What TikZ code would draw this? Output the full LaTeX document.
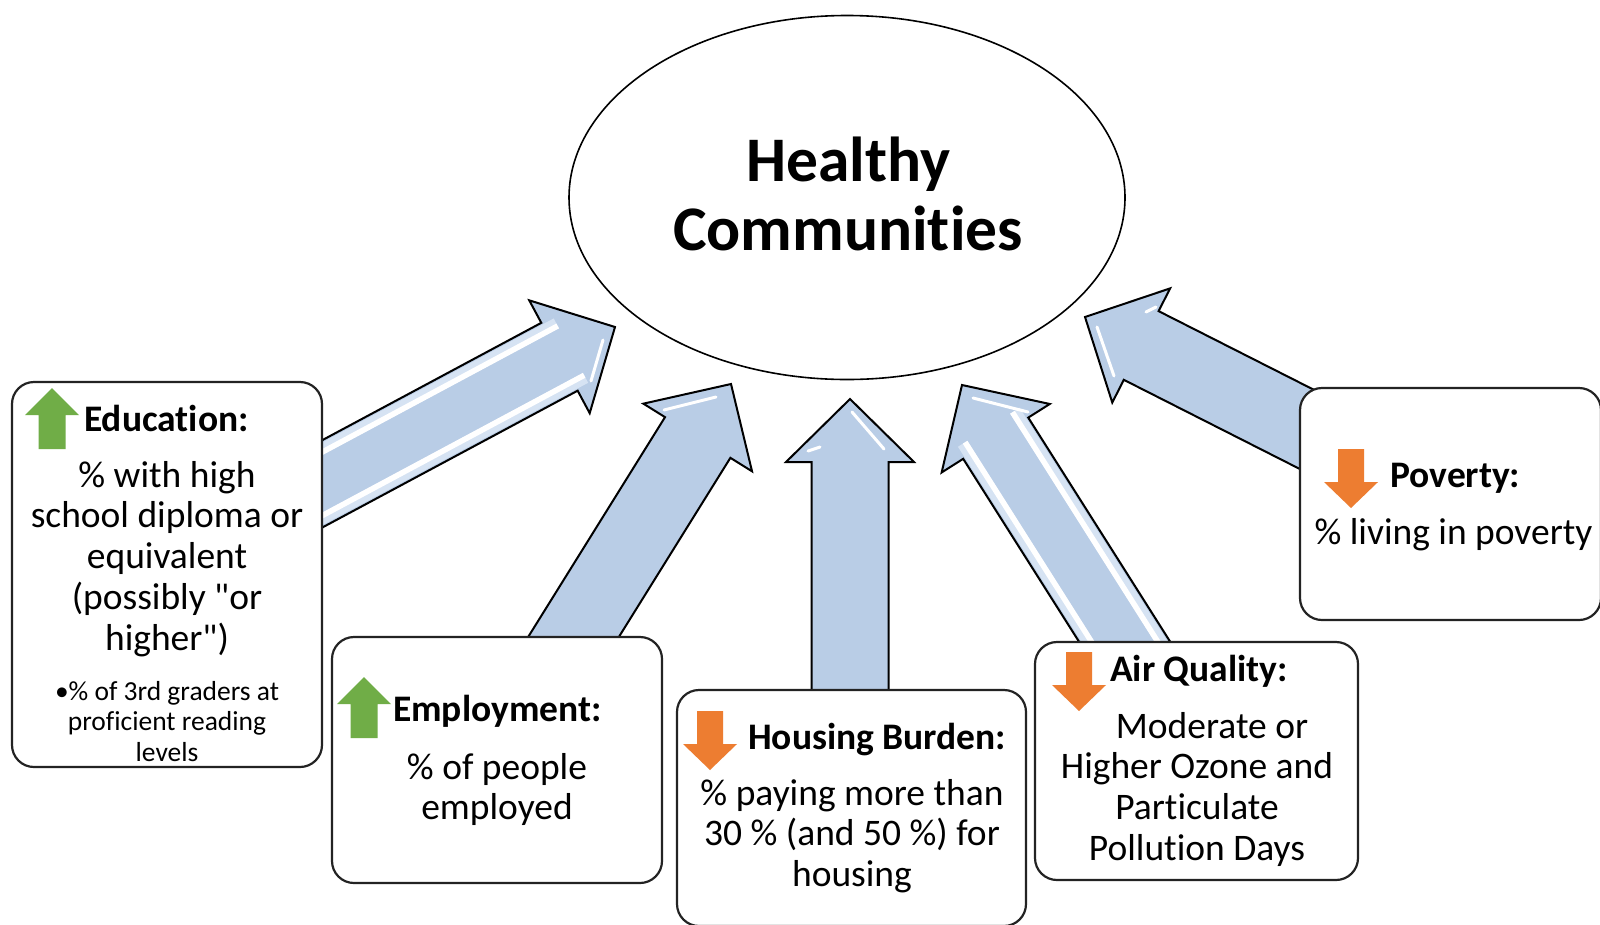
\documentclass[tikz,border=0pt]{standalone}
\usepackage{fontspec}
\setmainfont{Carlito}[Ligatures={TeXOff,CommonOff}]
\usetikzlibrary{shapes.geometric,calc}
\definecolor{arrowblue}{RGB}{185,205,230}
\definecolor{glowblue}{RGB}{214,227,243}
\definecolor{upgreen}{RGB}{112,173,71}
\definecolor{downorange}{RGB}{237,125,49}
\definecolor{boxline}{RGB}{35,35,35}

\newcommand\mylines[1]{\begin{tabular}[t]{@{}c@{}}#1\end{tabular}}

\tikzset{
  box/.style={draw=boxline, line width=2.2pt, fill=white, rounded corners=22pt, inner sep=0pt, outer sep=0pt},
  bodytext/.style={font=\fontsize{37.5}{40.8}\selectfont, inner sep=0pt, anchor=base},
  headtext/.style={font=\fontsize{37.5}{40.8}\selectfont\bfseries, inner sep=0pt, anchor=base west},
  smalltext/.style={font=\fontsize{27.5}{30.6}\selectfont, inner sep=0pt, anchor=base},
  blockarrow/.style={fill=arrowblue, draw=black, line width=2pt, line join=miter},
  shine/.style={white, line width=3pt, line cap=round},
}

% block arrow: #1 prefix, #2 start, #3 tip
\newcommand\blockarrow[3]{%
  \coordinate (#1hb) at ($(#3)!63pt!(#2)$);
  \path[blockarrow] ($(#2)!38.5pt!90:(#3)$) -- ($(#1hb)!38.5pt!90:(#3)$)
    -- ($(#1hb)!64pt!90:(#3)$) -- (#3) -- ($(#1hb)!64pt!-90:(#3)$)
    -- ($(#1hb)!38.5pt!-90:(#3)$) -- ($(#2)!38.5pt!-90:(#3)$) -- cycle;
}
% glossy stripes along both sides of the shaft
\newcommand\stripes[3]{%
  \coordinate (#1se) at ($(#3)!50pt!(#2)$);
  \foreach \a in {90,-90} {
    \draw[glowblue, line width=11pt] ($(#2)!31pt!\a:(#3)$) -- ($(#1se)!31pt!\a:(#3)$);
    \draw[white, line width=5.5pt] ($(#2)!28pt!\a:(#3)$) -- ($(#1se)!28pt!\a:(#3)$);
  }
}
\newcommand\upicon[2]{\fill[upgreen] (#1,#2) -- ++(27,27) -- ++(-13.5,0) -- ++(0,34) -- ++(-27,0) -- ++(0,-34) -- ++(-13.5,0) -- cycle;}
\newcommand\downicon[2]{\fill[downorange] ({#1-13},#2) -- ++(26,0) -- ++(0,33) -- ++(14,0) -- ++(-27,26) -- ++(-27,-26) -- ++(14,0) -- cycle;}

\begin{document}
\begin{tikzpicture}[x=1pt, y=-1pt]
\clip (0,0) rectangle (1600,924);
\fill[white] (0,0) rectangle (1600,924);

% arrow end points
\coordinate (s1) at (286.7,502.9); \coordinate (t1) at (615,327);
\coordinate (s2) at (557.6,662.5); \coordinate (t2) at (731,384);
\coordinate (s3) at (850,720);     \coordinate (t3) at (850,399);
\coordinate (s4) at (1141,667.6);  \coordinate (t4) at (962,385);
\coordinate (s5) at (1335.7,444);  \coordinate (t5) at (1085,317);

\blockarrow{a1}{s1}{t1}
\blockarrow{a2}{s2}{t2}
\blockarrow{a3}{s3}{t3}
\blockarrow{a4}{s4}{t4}
\blockarrow{a5}{s5}{t5}
\stripes{a1}{s1}{t1}
\stripes{a4}{s4}{t4}

% small highlights on the heads
\draw[shine] (603,340) -- (591,381);
\draw[shine] (664,410) -- (716,397);
\draw[shine] (852,412) -- (884,449);
\draw[shine] (808,451) -- (820,447);
\draw[shine] (973,398) -- (1028,412);
\draw[shine] (1097,327) -- (1114,376);
\draw[shine] (1146,312) -- (1156,307);

% central ellipse
\node[draw, ellipse, line width=1.6pt, minimum width=556pt, minimum height=364pt, inner sep=0pt] (hc) at (847,197.5) {};
\node[font=\fontsize{63.5}{69}\selectfont\bfseries, inner sep=0pt, anchor=base] (title) at (848,181) {\mylines{Healthy\\Communities}};

% boxes
\node[box, minimum width=310pt, minimum height=385pt] (edu) at (167,574.5) {};
\node[box, minimum width=330pt, minimum height=246pt] (emp) at (497,760) {};
\node[box, minimum width=349pt, minimum height=236pt] (hou) at (851.5,808) {};
\node[box, minimum width=323pt, minimum height=238pt] (air) at (1196.5,761) {};
\node[box, minimum width=301pt, minimum height=232pt] (pov) at (1450.5,504) {};

% icons
\upicon{52}{388}
\upicon{364}{677}
\downicon{710}{711}
\downicon{1079}{652}
\downicon{1351}{449}

% texts
\node[headtext] (eduh) at (84,431) {Education:};
\node[bodytext] (edub) at (167,487) {\mylines{\% with high\\school diploma or\\equivalent\\(possibly "or\\higher")}};
\node[smalltext] (edus) at (167,700) {\mylines{•\% of 3rd graders at\\proficient reading\\levels}};

\node[headtext] (emph) at (393,721) {Employment:};
\node[bodytext] (empb) at (497,779) {\mylines{\% of people\\employed}};

\node[headtext] (houh) at (748,749) {Housing Burden:};
\node[bodytext] (houb) at (852,805) {\mylines{\% paying more than\\30 \% (and 50 \%) for\\housing}};

\node[headtext] (airh) at (1110,681) {Air Quality:};
\node[bodytext] (airb) at (1197,738) {\mylines{\hspace*{30pt}Moderate or\\Higher Ozone and\\Particulate\\Pollution Days}};

\node[headtext] (povh) at (1390,487) {Poverty:};
\node[bodytext] (povb) at (1453.5,544) {\% living in poverty};
\end{tikzpicture}
\end{document}
